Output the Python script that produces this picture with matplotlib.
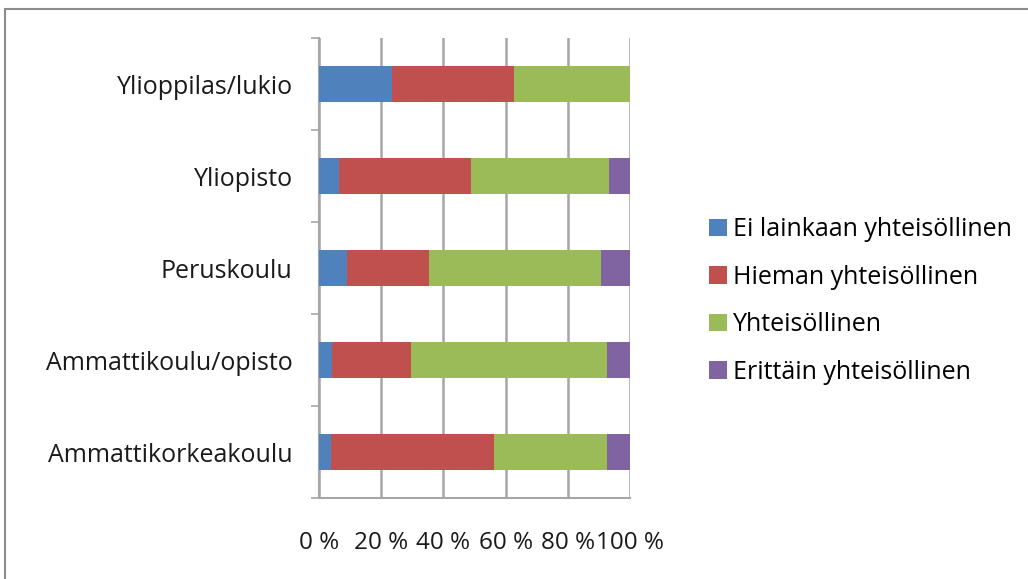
import numpy as np
import matplotlib.pyplot as plt
from matplotlib.patches import Rectangle

plt.rcParams['font.family'] = ['Open Sans', 'DejaVu Sans']

# data (percent of respondents)
categories = ['Ylioppilas/lukio', 'Yliopisto', 'Peruskoulu',
              'Ammattikoulu/opisto', 'Ammattikorkeakoulu']
series = ['Ei lainkaan yhteisöllinen', 'Hieman yhteisöllinen',
          'Yhteisöllinen', 'Erittäin yhteisöllinen']
ei_lainkaan = [23.4, 6.5, 8.9, 4.3, 3.9]
hieman = [39.2, 42.3, 26.5, 25.4, 52.3]
yhteisollinen = [37.4, 44.6, 55.2, 62.9, 36.5]
erittain = [0.0, 6.6, 9.4, 7.4, 7.3]
xticklabels = ['0 %', '20 %', '40 %', '60 %', '80 %', '100 %']

colors = ['#4F81BD', '#C0504D', '#9BBB59', '#8064A2']
grid_col = '#A6A6A6'
txt_col = '#1A1A1A'

fig = plt.figure(figsize=(10.28, 5.79), dpi=100)
ax = fig.add_axes([319/1028, 1 - 498/579, 311/1028, 460/579])

# outer chart border
fig.patches.append(Rectangle((5/1028, -0.05), 1.1, 1 - 9/579 + 0.05,
                             transform=fig.transFigure, fill=False,
                             edgecolor='#8C8C8C', linewidth=1.5))

values = np.array([ei_lainkaan, hieman, yhteisollinen, erittain])
totals = values.sum(axis=0)
values = values / totals * 100
y = np.arange(len(categories))[::-1]
left = np.zeros(len(categories))
for vals, name, c in zip(values, series, colors):
    ax.barh(y, vals, left=left, height=0.39, color=c, label=name, zorder=3)
    left += vals

ax.set_xlim(0, 100)
ax.set_ylim(-0.5, len(categories) - 0.5)
ax.set_xticks(np.arange(0, 101, 20))
ax.set_xticklabels(xticklabels, fontsize=17.5, color=txt_col)
ax.set_yticks(y)
ax.set_yticklabels(categories, fontsize=18, color=txt_col)
ax.tick_params(axis='y', length=0, pad=19)
ax.tick_params(axis='x', length=0, pad=24)
# category boundary ticks
ax.set_yticks(np.arange(-0.5, len(categories), 1), minor=True)
ax.tick_params(axis='y', which='minor', length=6, width=1.2, color=grid_col,
               direction='out')
ax.set_xticks(np.arange(0, 101, 20), minor=True)
ax.tick_params(axis='x', which='minor', length=6, width=1.2, color=grid_col,
               direction='out')

ax.grid(axis='x', color=grid_col, linewidth=1.8, zorder=0)
for s in ['top', 'right']:
    ax.spines[s].set_visible(False)
for s in ['left', 'bottom']:
    ax.spines[s].set_color(grid_col)
    ax.spines[s].set_linewidth(1.5)

ax.legend(loc='center left', bbox_to_anchor=(709/1028, 1 - 301/579),
          bbox_transform=fig.transFigure, frameon=False, fontsize=18,
          handlelength=0.7, handleheight=0.7, handletextpad=0.25,
          labelspacing=0.9, borderaxespad=0, borderpad=0)

fig.savefig('out.png', dpi=100)
